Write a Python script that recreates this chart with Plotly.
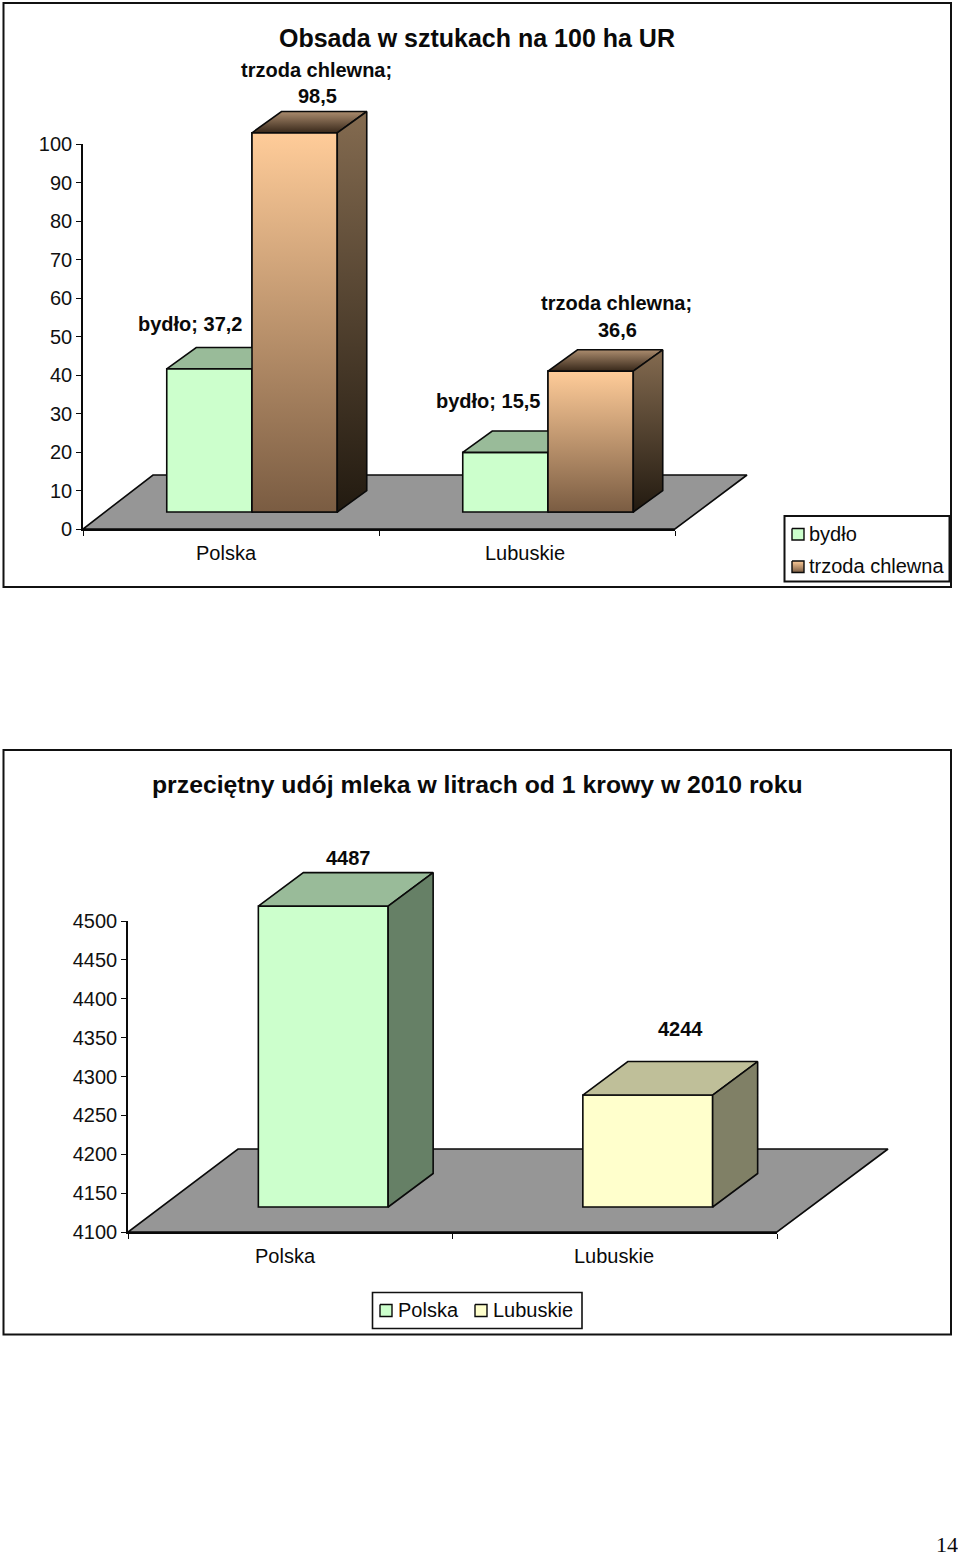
import plotly.graph_objects as go

W, H = 960, 1556

# data - chart 1
kategorie = ["Polska", "Lubuskie"]
bydlo = [37.2, 15.5]
trzoda = [98.5, 36.6]
obsada_ticks = [0, 10, 20, 30, 40, 50, 60, 70, 80, 90, 100]

# data - chart 2
udoj_wartosci = [4487, 4244]
udoj_ticks = [4100, 4150, 4200, 4250, 4300, 4350, 4400, 4450, 4500]

FONT = "Liberation Sans"
LINE = "#0a0a0a"
FLOOR = "#969696"
GREEN = ("#CCFFCC", "#99BB99", "#668066")
YELLOW = ("#FFFFCC", "#BFBF99", "#808066")
# colorscale runs bottom -> top
BROWN_FRONT = [[0, "#7A5C42"], [1, "#FFCC99"]]
BROWN_SIDE = [[0, "#221A10"], [1, "#846B50"]]
BROWN_TOP = [[0, "#38281A"], [1, "#AB8C6E"]]
EXTRA_X, EXTRA_Y, EXTRA_B = 120, 60, 4  # room on the hidden axes, so outlines are not clipped

fig = go.Figure()


def dom_x(a, b):
    return [a / W, b / W]


def dom_y(bottom, top):
    return [1 - bottom / H, 1 - top / H]


def polygon(xs, ys, ax, ay, color=None, gradient=None, width=1.6):
    # closed filled shape on the given axes
    trace = dict(x=xs + xs[:1], y=ys + ys[:1], xaxis=ax, yaxis=ay, mode="lines", fill="toself",
                 line=dict(color=LINE, width=width), hoverinfo="skip", showlegend=False)
    if gradient:
        trace["fillgradient"] = dict(type="vertical", colorscale=gradient)
    else:
        trace["fillcolor"] = color
    fig.add_trace(go.Scatter(**trace))


def setup_axes(n, x0, x1, y0, y1, yrange, yticks, shift_x, shift_y):
    # n: visible tick axes, n+1: hidden floor axes, n+2: hidden bar axes (same scale moved into the "3D" floor)
    sfx = str(n) if n > 1 else ""
    tick_style = dict(showgrid=False, zeroline=False, showline=True, linecolor=LINE, linewidth=1.6,
                      ticks="outside", ticklen=5, tickwidth=1.4, tickcolor=LINE)
    ux = 2 / (x1 - x0)
    uy = (yrange[1] - yrange[0]) / (y0 - y1)
    hi_x = 2 + EXTRA_X * ux
    hi_y = yrange[1] + EXTRA_Y * uy
    lo_y = yrange[0] - EXTRA_B * uy
    fig.update_layout(**{
        f"xaxis{sfx}": dict(domain=dom_x(x0, x1), range=[0, 2], tickvals=[0, 1, 2], showticklabels=False,
                            anchor=f"y{sfx}", **tick_style),
        f"yaxis{sfx}": dict(domain=dom_y(y0, y1), range=yrange, tickvals=yticks, anchor=f"x{sfx}",
                            tickfont=dict(family=FONT, size=20, color="#111"), **tick_style),
        f"xaxis{n + 1}": dict(domain=dom_x(x0, x1 + EXTRA_X), range=[0, hi_x], visible=False, anchor=f"y{n + 1}"),
        f"yaxis{n + 1}": dict(domain=dom_y(y0 + EXTRA_B, y1 - EXTRA_Y), range=[lo_y, hi_y], visible=False, anchor=f"x{n + 1}"),
        f"xaxis{n + 2}": dict(domain=dom_x(x0 + shift_x, x1 + shift_x + EXTRA_X), range=[0, hi_x], visible=False,
                              anchor=f"y{n + 2}"),
        f"yaxis{n + 2}": dict(domain=dom_y(y0 - shift_y + EXTRA_B, y1 - shift_y - EXTRA_Y), range=[lo_y, hi_y], visible=False,
                              anchor=f"x{n + 2}"),
    })
    # axes without a trace are not drawn at all
    fig.add_trace(go.Scatter(x=[0], y=[yrange[0]], xaxis=f"x{sfx}", yaxis=f"y{sfx}", mode="markers",
                             marker=dict(opacity=0), hoverinfo="skip", showlegend=False))
    return ux, uy


def box_faces(x0, x1, base, val, dx, dy, ax, ay, top, side):
    polygon([x0, x0 + dx, x1 + dx, x1], [val, val + dy, val + dy, val], ax, ay,
            color=None if isinstance(top, list) else top, gradient=top if isinstance(top, list) else None)
    polygon([x1, x1 + dx, x1 + dx, x1], [val, val + dy, base + dy, base], ax, ay,
            color=None if isinstance(side, list) else side, gradient=side if isinstance(side, list) else None)


# ---- chart 1 ----
ux, uy = setup_axes(1, 83, 675, 529, 144, [0, 100], obsada_ticks, 21, 17)
polygon([0, 70 * ux, 2 + 72 * ux, 2], [0, 54 * uy, 54 * uy, 0], "x2", "y2", color=FLOOR)

BW = 0.288
DX, DY = 29.5 * ux, 21.3 * uy
pozycje = [i + 0.5 for i in range(len(kategorie))]
for nazwa, wart, off, kolor in [("bydło", bydlo, -BW, GREEN[0]), ("trzoda chlewna", trzoda, 0, "#C09770")]:
    fig.add_trace(go.Bar(x=pozycje, y=wart, width=BW, offset=off, name=nazwa, xaxis="x3", yaxis="y3",
                         marker=dict(color=kolor, line=dict(color=LINE, width=1.6)),
                         hoverinfo="skip", showlegend=False))
for p, v in zip(pozycje, bydlo):
    box_faces(p - BW, p, 0, v, DX, DY, "x3", "y3", GREEN[1], GREEN[2])
for p, v in zip(pozycje, trzoda):
    # gradient front goes over the bar
    polygon([p, p + BW, p + BW, p], [0, 0, v, v], "x3", "y3", gradient=BROWN_FRONT)
    box_faces(p, p + BW, 0, v, DX, DY, "x3", "y3", BROWN_TOP, BROWN_SIDE)

# ---- chart 2 ----
ymin = udoj_ticks[0]
ux2, uy2 = setup_axes(4, 128, 777, 1232, 921, [ymin, udoj_ticks[-1]], udoj_ticks, 33, 25)
polygon([0, 110 * ux2, 2 + 111 * ux2, 2], [ymin, ymin + 83 * uy2, ymin + 83 * uy2, ymin], "x5", "y5", color=FLOOR)

BW2 = 0.4
for p, v, (front, top, side), nazwa in zip(pozycje, udoj_wartosci, [GREEN, YELLOW], kategorie):
    fig.add_trace(go.Bar(x=[p], y=[v - ymin], base=ymin, width=BW2, name=nazwa, xaxis="x6", yaxis="y6",
                         marker=dict(color=front, line=dict(color=LINE, width=1.6)),
                         hoverinfo="skip", showlegend=False))
    box_faces(p - BW2 / 2, p + BW2 / 2, ymin, v, 45 * ux2, 33.5 * uy2, "x6", "y6", top, side)

# legend keys live on a hidden page-sized axis pair
fig.update_layout(
    xaxis7=dict(domain=[0, 1], range=[0, W], visible=False, anchor="y7"),
    yaxis7=dict(domain=[0, 1], range=[H, 0], visible=False, anchor="x7"),
)
polygon([792, 804, 804, 792], [528.5, 528.5, 540, 540], "x7", "y7", color=GREEN[0], width=1.4)
polygon([792, 804, 804, 792], [561, 561, 572.5, 572.5], "x7", "y7", gradient=BROWN_FRONT, width=1.4)
polygon([380, 392, 392, 380], [1304.5, 1304.5, 1316.5, 1316.5], "x7", "y7", color=GREEN[0], width=1.4)
polygon([475, 487, 487, 475], [1304.5, 1304.5, 1316.5, 1316.5], "x7", "y7", color=YELLOW[0], width=1.4)

shapes = []
for x0, y0, x1, y1, w in [(3.5, 3, 951, 587, 2), (3.5, 750, 951, 1334.5, 2),
                          (784.5, 516, 949.5, 581.5, 2), (372.5, 1292.5, 582, 1328.5, 1.6)]:
    shapes.append(dict(type="rect", xref="paper", yref="paper", x0=x0 / W, x1=x1 / W, y0=1 - y0 / H, y1=1 - y1 / H,
                       line=dict(color="#111", width=w)))


def label(x, y, text, size=20, bold=False, anchor="center", family=FONT):
    return dict(xref="paper", yref="paper", x=x / W, y=1 - y / H, text=f"<b>{text}</b>" if bold else text,
                showarrow=False, xanchor=anchor, yanchor="middle",
                font=dict(family=family, size=size, color="#0a0a0a"))


annotations = [
    label(477, 38, "Obsada w sztukach na 100 ha UR", 25, True),
    label(316, 70, "trzoda chlewna;", bold=True),
    label(317, 96, "98,5", bold=True),
    label(190, 324, "bydło; 37,2", bold=True),
    label(616, 303, "trzoda chlewna;", bold=True),
    label(617, 330, "36,6", bold=True),
    label(488, 401, "bydło; 15,5", bold=True),
    label(226, 553, kategorie[0]),
    label(525, 553, kategorie[1]),
    label(807, 534, "bydło", anchor="left"),
    label(807, 566, "trzoda chlewna", anchor="left"),
    label(477, 785, "przeciętny udój mleka w litrach od 1 krowy w 2010 roku", 24.75, True),
    label(348, 858, str(udoj_wartosci[0]), bold=True),
    label(680, 1029, str(udoj_wartosci[1]), bold=True),
    label(285, 1256, kategorie[0]),
    label(614, 1256, kategorie[1]),
    label(396, 1310, kategorie[0], anchor="left"),
    label(491, 1310, kategorie[1], anchor="left"),
    # page number sits tight against the bottom edge, a fixed box keeps it on the page
    dict(label(947, 1544, "14", 22, family="Liberation Serif"), height=22),
]

fig.update_layout(
    width=W, height=H, margin=dict(l=0, r=0, t=0, b=0, autoexpand=False), autosize=False,
    paper_bgcolor="white", plot_bgcolor="rgba(0,0,0,0)", barmode="overlay", showlegend=False,
    shapes=shapes, annotations=annotations,
)

fig.write_html("out.html", config={"displayModeBar": False}, post_script="document.body.style.margin='0';")
